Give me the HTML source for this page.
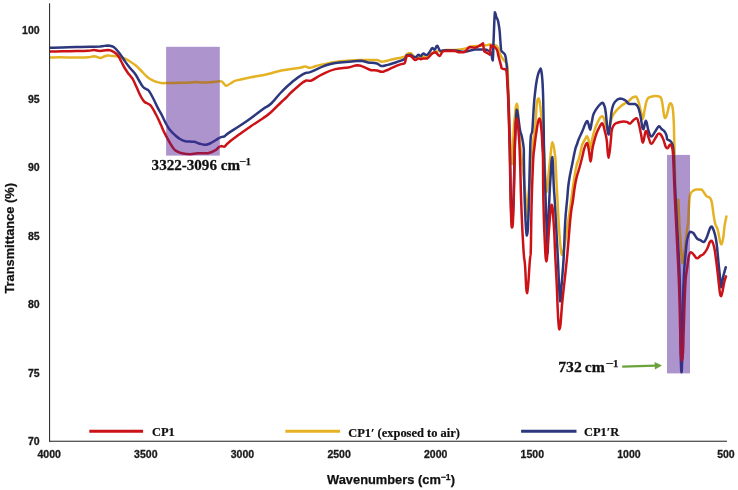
<!DOCTYPE html>
<html><head><meta charset="utf-8"><title>FTIR spectra</title>
<style>
html,body{margin:0;padding:0;background:#fff}
svg{display:block}
.ax{font-family:"Liberation Sans",Arial,sans-serif;font-weight:bold;font-size:10.5px;fill:#1a1a1a;stroke:#1a1a1a;stroke-width:0.3px}
.tt{font-family:"Liberation Sans",Arial,sans-serif;font-weight:bold;font-size:12.85px;fill:#111;stroke:#111;stroke-width:0.25px}
.lg{font-family:"Liberation Serif","Times New Roman",serif;font-weight:bold;font-size:12.45px;fill:#111;stroke:#111;stroke-width:0.2px}
.an{font-family:"Liberation Serif","Times New Roman",serif;font-weight:bold;fill:#111;stroke:#111;stroke-width:0.25px}
.ln{fill:none;stroke-width:2.5;stroke-linejoin:round;stroke-linecap:round}
</style></head><body>
<svg width="738" height="490" viewBox="0 0 738 490">
<rect width="738" height="490" fill="#fff"/>
<defs>
<clipPath id="pa"><rect x="50" y="0" width="688" height="441"/></clipPath>
<clipPath id="cp"><rect x="166.1" y="46.8" width="53.7" height="108.8"/><rect x="667" y="154.9" width="23" height="218.5"/></clipPath>
<path id="pY" d="M49.5 57.5C52.0 57.5 54.0 57.3 60.0 57.3C66.0 57.3 68.5 57.6 75.0 57.6C81.5 57.6 83.6 57.6 88.0 57.3C92.4 57.0 91.1 56.2 94.0 56.2C96.9 56.4 98.1 57.9 100.4 58.0C102.7 58.0 102.2 57.1 104.0 56.5C105.8 55.9 106.1 55.5 108.0 55.4C109.9 55.4 109.8 55.8 112.0 56.0C114.2 56.2 115.3 56.0 117.6 56.4C119.9 56.8 120.2 56.9 122.0 57.5C123.8 58.1 123.6 58.1 125.5 59.0C127.4 59.9 127.7 60.0 130.0 61.5C132.3 63.0 133.2 63.4 135.5 65.3C137.8 67.2 137.6 67.2 140.0 69.5C142.4 71.8 143.2 73.1 145.6 75.3C148.0 77.5 147.9 77.5 150.2 79.0C152.5 80.5 152.7 80.6 155.6 81.6C158.5 82.6 159.4 82.9 162.8 83.2C166.2 83.2 166.0 83.1 170.0 83.0C174.0 82.9 175.3 82.9 180.0 82.8C184.7 82.7 186.4 82.7 190.0 82.5C193.6 82.3 192.6 82.0 195.4 82.0C198.2 82.0 198.6 82.5 202.0 82.6C205.4 82.6 205.8 82.6 210.0 82.3C214.2 82.0 217.1 81.2 220.2 81.2C223.3 81.3 221.9 81.9 223.3 82.9C224.7 84.0 224.6 85.6 226.3 85.7C228.0 85.7 228.0 84.7 230.4 83.5C232.8 82.3 231.7 81.8 236.5 80.4C241.3 79.0 243.7 78.7 250.8 77.3C257.9 75.9 260.0 75.9 267.1 74.3C274.2 72.7 273.7 72.1 281.4 70.6C289.1 69.1 294.5 68.8 300.0 67.8C305.1 66.8 302.8 66.4 305.1 66.4C307.4 66.4 307.5 67.8 310.0 67.8C312.5 67.7 312.8 66.8 316.0 66.0C319.2 65.2 319.4 65.1 323.9 64.2C328.4 63.3 330.4 62.7 335.3 62.0C340.2 61.3 339.3 61.4 345.0 61.0C350.7 60.6 354.4 60.3 359.8 60.1C365.2 60.1 364.0 60.1 368.0 60.1C372.0 60.1 373.7 60.1 376.9 60.1C380.1 60.5 379.7 61.5 381.8 61.7C383.9 61.7 383.4 61.6 386.0 61.0C388.6 60.4 388.7 60.2 393.0 59.2C397.3 58.2 401.4 57.8 404.5 56.7C406.5 55.6 405.5 55.3 406.5 54.5C407.5 53.7 407.6 53.4 408.6 53.1C409.7 53.1 409.5 53.1 411.0 53.2C412.5 54.2 412.9 56.3 415.0 57.2C417.1 57.2 417.7 57.2 420.0 57.0C422.3 56.8 422.7 56.9 425.0 56.3C427.3 55.7 427.9 55.4 430.0 54.5C432.1 53.6 432.1 53.3 434.0 52.5C435.9 51.7 436.2 51.4 438.0 51.2C439.8 51.2 439.8 51.5 441.5 51.5C443.2 51.2 442.2 50.3 445.3 49.9C448.4 49.9 450.4 49.9 455.0 49.9C459.6 49.6 461.1 49.4 464.9 48.6C468.7 47.8 467.9 47.3 471.4 46.6C474.9 45.9 476.6 46.1 480.0 45.8C483.4 45.5 483.9 45.6 486.1 45.3C488.3 45.0 487.8 44.6 489.4 44.5C491.0 44.5 491.2 44.5 493.0 44.8C494.8 45.2 495.3 44.8 497.0 46.3C498.7 48.6 498.9 51.4 500.3 54.5C501.7 57.6 501.5 56.7 503.2 59.4C504.9 62.1 506.3 61.1 507.4 65.9C508.0 70.7 507.7 72.0 508.0 80.0C508.3 88.0 508.3 86.0 508.8 100.0C509.3 114.0 509.4 125.0 510.2 140.0C511.0 155.0 511.4 164.1 512.1 164.1C512.8 163.3 512.8 147.0 513.4 136.7C514.0 126.4 513.7 127.7 514.5 120.0C515.3 112.3 515.9 103.7 516.8 103.7C517.7 103.7 517.8 111.5 518.5 120.0C519.2 128.5 519.3 133.0 519.8 140.0C520.3 147.0 519.8 141.8 520.7 150.0C521.6 158.2 522.3 163.3 523.5 175.0C524.7 186.7 525.0 190.2 525.8 200.0C526.6 209.8 526.5 217.1 527.1 217.1C527.7 217.1 527.5 209.8 528.2 200.0C528.9 190.2 529.0 186.7 530.0 175.0C531.0 163.3 531.6 157.5 532.3 150.0C533.0 142.9 532.3 148.8 533.0 142.9C533.7 137.0 534.5 133.6 535.4 124.5C536.3 115.4 536.0 110.1 536.8 104.0C537.6 98.4 537.8 98.4 538.8 98.4C539.8 100.3 539.8 102.5 540.9 112.2C542.0 121.9 542.5 125.5 543.5 140.0C544.5 154.5 544.5 162.3 545.2 174.5C545.9 186.7 545.9 192.1 546.7 192.2C547.5 192.2 547.7 182.5 548.5 175.0C549.3 167.5 549.2 167.7 550.1 160.0C551.0 152.3 551.4 143.3 552.5 142.2C553.6 142.2 554.3 150.4 555.0 155.1C555.6 159.8 555.3 156.4 555.6 162.2C555.9 168.0 556.0 171.2 556.4 180.0C556.8 188.8 556.9 189.5 557.5 200.0C558.1 210.5 558.1 214.5 558.8 225.0C559.5 235.5 559.7 238.0 560.4 245.0C561.1 252.0 561.2 253.9 562.0 254.8C562.8 254.8 562.7 254.8 564.0 249.0C565.3 241.9 566.3 234.2 567.7 224.5C569.1 214.8 568.8 217.5 570.2 207.3C571.6 197.1 572.4 190.3 573.9 180.6C575.4 170.9 575.5 170.7 576.6 165.6C577.7 160.5 577.8 162.4 578.8 158.8C579.8 155.2 580.2 153.3 581.0 150.0C581.8 146.7 581.2 147.4 582.2 144.8C583.2 142.2 584.2 140.9 585.3 138.9C586.4 136.9 586.2 136.3 587.1 136.3C588.0 137.0 588.2 139.0 589.0 142.0C589.8 145.0 589.7 149.0 590.4 149.0C591.1 148.5 591.0 144.4 592.0 140.0C593.0 135.6 593.1 134.7 594.5 130.3C595.9 125.9 596.4 124.4 598.2 121.1C600.0 117.8 600.5 116.2 602.1 116.2C603.7 116.3 603.8 118.9 604.9 121.7C606.0 124.5 606.0 125.8 606.8 128.0C607.6 130.2 607.7 131.0 608.5 131.0C609.3 130.1 609.4 127.3 610.3 124.0C611.2 120.7 611.0 119.6 612.2 116.8C613.4 114.0 613.2 114.5 615.3 111.9C617.4 109.3 618.2 108.4 621.4 105.8C624.5 103.2 626.1 102.9 628.8 100.9C631.5 98.9 631.4 98.2 633.1 97.2C634.8 96.6 634.8 96.6 636.1 96.6C637.4 97.7 637.5 98.5 638.6 102.1C639.7 105.7 640.0 108.0 641.0 111.9C642.0 115.8 642.0 118.7 642.9 118.7C643.8 118.1 643.7 113.9 644.7 109.5C645.7 105.1 645.7 102.7 647.1 99.7C648.5 96.8 648.8 97.7 650.8 96.8C652.8 96.0 653.5 96.0 655.7 96.0C657.9 96.0 658.7 96.0 660.2 97.0C661.7 98.4 661.2 98.0 662.1 102.0C663.0 106.0 663.2 110.6 663.9 114.3C664.6 118.0 664.4 118.0 665.1 118.0C665.8 118.0 666.0 117.5 667.0 114.3C668.0 111.1 668.5 107.1 669.4 104.5C670.3 103.3 670.0 103.3 670.7 103.3C671.4 103.9 671.8 103.3 672.5 106.9C673.2 110.9 673.3 112.7 673.7 120.4C674.1 128.1 674.0 132.2 674.2 140.0C674.4 147.8 674.4 143.5 674.6 154.0C674.8 164.5 674.9 171.9 675.2 185.0C675.5 198.1 675.7 201.4 676.0 210.0C676.3 218.6 676.3 222.0 676.6 222.0C676.9 221.5 677.0 213.2 677.4 208.0C677.8 202.8 677.9 199.5 678.2 199.5C678.6 200.4 678.6 206.3 678.9 212.0C679.2 217.7 679.1 218.4 679.4 224.0C679.7 229.6 679.5 226.9 680.2 236.0C680.9 245.1 681.5 259.9 682.5 263.0C683.5 263.0 683.6 257.5 684.7 249.5C685.8 241.5 686.4 235.1 687.2 228.7C688.0 222.3 687.8 227.4 688.2 222.0C688.6 216.6 688.5 212.0 689.0 205.6C689.5 199.2 689.1 198.2 690.2 194.6C691.3 191.0 692.3 191.5 693.9 190.3C695.5 189.5 695.3 189.7 697.0 189.5C698.7 189.5 699.7 189.5 701.3 189.5C702.9 190.1 702.4 190.5 703.7 192.1C705.0 193.7 705.4 195.1 706.8 196.4C708.2 197.7 708.7 196.4 709.8 197.7C710.9 199.0 710.8 198.1 711.7 201.9C712.6 205.8 712.7 209.0 713.5 214.2C714.3 219.4 714.3 220.3 715.3 224.0C716.3 227.7 716.7 225.8 717.8 230.0C718.9 234.2 719.3 238.8 720.2 242.1C721.1 244.3 720.8 244.3 721.5 244.3C722.2 243.2 722.6 241.4 723.3 237.2C724.0 233.0 723.8 231.2 724.5 226.4C725.2 221.6 726.0 218.9 726.4 216.6"/>
<path id="pR" d="M49.5 51.5C52.4 51.5 55.8 51.4 62.0 51.3C68.2 51.2 69.9 51.2 76.0 51.1C82.1 51.0 83.8 51.0 88.0 50.8C92.2 50.6 91.2 50.1 94.0 50.1C96.8 50.1 96.8 50.9 100.0 50.9C103.2 50.9 104.6 50.0 107.5 50.0C110.4 50.1 110.1 50.1 112.5 51.3C114.9 52.5 115.6 52.8 117.6 55.1C119.6 57.4 119.3 57.9 121.0 61.0C122.7 64.1 123.1 65.4 125.0 68.5C126.9 71.6 127.2 71.8 129.0 74.3C130.8 76.8 130.9 76.0 132.7 79.0C134.4 82.0 134.8 83.2 136.5 87.0C138.2 90.8 138.7 92.3 140.2 95.3C141.7 98.3 141.8 98.3 143.0 100.0C144.2 101.7 143.9 101.5 145.2 102.4C146.5 103.3 147.0 103.0 148.5 104.0C150.0 105.0 149.8 104.1 151.5 106.6C153.2 109.0 153.9 110.5 156.0 114.5C158.1 118.5 158.1 118.8 160.4 123.8C162.7 128.8 163.1 130.3 166.0 135.8C168.9 141.3 170.2 143.9 172.8 147.5C175.4 151.1 174.6 149.9 177.0 151.3C179.4 152.7 179.8 152.8 182.9 153.5C186.0 154.2 186.9 154.2 190.4 154.2C193.9 154.1 193.9 153.4 198.0 153.2C202.1 153.2 203.9 153.2 208.0 153.2C212.1 152.5 213.1 151.5 215.5 150.2C217.9 148.9 216.9 148.8 218.2 147.8C219.5 146.8 219.8 146.4 221.2 146.1C222.6 146.1 222.6 146.7 224.3 146.7C226.0 145.9 224.6 145.8 228.4 142.7C232.2 139.6 235.4 137.3 240.6 133.5C245.8 129.7 245.6 129.9 250.8 126.3C256.1 122.7 258.3 121.5 263.1 118.2C267.9 114.9 266.9 115.8 271.2 112.0C275.5 108.2 277.9 105.4 281.4 102.0C284.9 98.6 283.9 99.8 286.3 97.5C288.7 95.2 287.8 95.5 291.6 92.0C295.4 88.5 299.2 85.1 302.7 82.4C306.2 80.5 304.8 80.9 306.7 80.5C308.6 80.5 307.2 80.8 310.8 80.8C314.4 79.4 316.5 77.0 322.2 74.3C327.9 71.6 329.2 70.7 335.3 69.1C341.4 67.5 343.3 68.3 348.4 67.4C353.5 66.5 353.9 65.5 357.3 65.3C360.7 65.3 359.8 65.5 363.0 66.6C366.2 67.7 368.0 69.3 371.2 70.2C374.4 70.5 374.4 70.2 376.9 70.5C379.4 70.9 379.7 71.8 381.8 71.8C383.9 71.8 383.4 71.5 386.0 70.5C388.6 69.5 389.5 68.8 393.0 67.3C396.5 65.8 398.5 65.0 401.2 64.1C403.9 63.3 403.4 64.1 404.5 63.3C405.6 62.1 405.2 60.7 405.8 59.0C406.4 57.3 406.0 56.7 407.0 55.9C408.0 55.6 408.3 55.6 410.2 55.6C412.1 56.6 413.2 59.3 415.1 60.0C417.0 60.0 417.1 58.6 418.4 58.4C419.7 58.4 419.7 59.2 420.8 59.2C421.9 59.2 421.8 58.6 423.3 58.4C424.8 58.4 425.2 58.4 427.3 58.4C429.4 57.3 430.3 54.9 432.2 53.5C434.1 52.3 433.8 52.3 435.5 52.3C437.2 52.9 437.7 55.9 439.6 55.9C441.5 55.6 440.5 52.2 443.7 51.0C446.9 50.7 450.1 50.7 453.5 50.7C456.9 51.0 455.9 51.9 458.4 52.2C460.9 52.2 461.4 52.2 464.1 52.2C466.8 51.0 467.3 47.9 469.8 46.9C472.3 46.9 472.6 47.8 474.7 47.8C476.8 47.6 477.1 47.0 479.0 46.0C480.9 45.0 482.1 43.9 483.0 43.3C483.0 43.3 483.0 43.3 483.0 43.3C483.3 45.2 483.9 49.5 484.2 51.4C484.2 51.4 484.2 51.4 484.2 51.4C485.5 52.1 488.6 53.9 489.9 54.6C489.9 54.6 489.9 54.6 489.9 54.6C490.1 52.5 490.7 47.7 490.9 45.6C490.9 45.6 490.9 45.6 490.9 45.6C492.1 46.3 494.4 46.0 496.2 48.6C498.0 51.2 497.6 52.9 498.7 56.9C499.8 60.9 500.4 63.2 501.1 65.9C501.7 68.4 501.1 67.5 501.7 68.4C502.8 69.3 504.7 68.4 506.0 69.6C507.2 72.4 506.7 73.5 507.2 80.6C507.7 87.7 507.6 83.8 508.2 100.0C508.8 116.2 509.1 124.3 509.7 150.0C510.3 175.7 510.3 191.9 510.9 210.0C511.5 227.6 511.5 227.6 512.1 227.6C512.7 227.6 512.8 225.8 513.4 210.0C514.0 194.2 514.2 177.1 514.6 160.0C515.0 142.9 514.7 146.4 515.2 136.7C515.7 127.0 515.9 118.4 516.8 118.4C517.7 118.4 518.2 127.0 518.9 136.7C519.6 146.4 519.4 144.1 520.0 160.0C520.6 175.9 520.5 184.0 521.3 205.0C522.1 226.0 522.6 236.0 523.5 250.0C524.4 264.0 524.2 254.9 525.0 265.0C525.8 275.1 526.0 293.2 527.1 293.2C528.2 292.0 529.0 270.1 529.9 260.0C530.8 250.0 530.4 260.0 530.8 250.0C531.2 236.0 531.1 221.0 531.7 200.0C532.3 179.0 532.6 171.9 533.2 160.0C533.8 149.0 533.4 155.9 534.2 149.0C535.0 142.1 535.4 137.7 536.6 130.6C537.8 123.5 538.2 118.4 539.3 118.4C540.4 118.4 540.8 123.5 541.5 130.6C542.2 137.7 542.1 142.1 542.5 149.0C542.9 155.9 542.8 149.0 543.0 160.0C543.2 171.9 543.0 182.5 543.4 200.0C543.8 217.5 543.8 220.7 544.5 235.0C545.2 249.3 545.5 261.4 546.4 261.4C547.3 261.4 547.3 248.2 548.5 235.0C549.7 221.8 550.4 207.0 551.6 204.7C552.8 204.7 553.0 214.4 553.8 225.0C554.6 235.6 554.4 237.2 555.0 250.0C555.6 262.8 555.5 261.5 556.5 280.0C557.5 298.5 557.8 325.4 559.3 329.4C560.8 329.4 561.0 313.2 562.8 297.0C564.5 280.8 565.0 278.3 566.8 260.0C568.6 241.7 569.0 232.4 570.4 218.4C571.8 204.4 572.0 207.6 573.0 200.0C574.0 192.4 574.0 191.6 574.9 186.0C575.8 180.4 575.9 180.3 577.0 176.0C578.1 171.7 578.3 171.8 579.5 167.6C580.7 163.4 580.9 162.3 582.0 158.0C583.1 153.7 583.2 152.3 584.1 149.2C585.0 146.0 585.1 145.9 585.8 144.5C586.5 143.1 586.5 143.0 587.2 143.0C587.9 144.3 588.0 145.7 588.8 150.0C589.6 154.3 589.9 160.9 590.6 161.4C591.3 161.4 591.4 155.9 592.0 152.0C592.6 148.1 592.3 149.0 593.3 144.8C594.3 140.6 594.7 138.4 596.3 134.0C597.9 129.6 598.6 128.5 600.0 126.0C601.4 123.5 601.3 123.2 602.4 123.2C603.5 124.5 603.9 127.6 604.9 131.5C605.9 135.4 605.8 133.9 606.7 140.0C607.6 146.1 607.6 157.7 608.6 157.7C609.6 157.4 610.3 144.8 611.0 138.7C611.6 132.6 611.0 134.7 611.6 131.5C612.3 128.3 612.4 126.9 614.1 124.8C615.8 122.7 616.7 123.1 619.0 122.3C621.3 121.5 621.9 121.4 623.9 121.4C625.9 121.4 626.1 121.8 627.5 122.3C628.9 122.8 628.6 123.6 630.0 123.6C631.4 123.0 632.1 121.1 633.7 119.9C635.3 118.7 635.6 118.3 636.7 118.3C637.8 119.0 637.6 119.3 638.6 123.0C639.6 126.7 640.0 129.4 641.0 134.0C642.0 138.6 641.9 142.7 642.9 142.7C643.9 142.3 644.5 134.9 645.3 132.1C646.1 130.9 645.6 130.9 646.5 130.9C647.4 132.5 647.8 135.9 649.0 138.9C650.2 141.9 650.0 143.8 651.5 143.8C653.0 143.6 653.8 140.4 655.5 138.0C657.2 135.6 657.3 133.5 659.0 133.5C660.7 133.5 661.1 134.8 662.7 138.0C664.3 141.2 664.7 144.6 665.8 147.0C666.9 148.3 666.6 148.3 667.6 148.3C668.6 147.7 669.0 144.9 670.0 144.6C671.0 144.6 671.2 144.6 671.9 147.0C672.6 149.6 672.5 147.0 673.1 155.6C673.7 164.5 673.6 168.8 674.3 185.0C675.0 201.2 675.1 201.7 676.2 225.0C677.3 248.3 678.1 260.5 679.0 285.0C679.9 309.5 679.8 314.8 680.2 330.0C680.6 345.2 680.5 343.5 680.7 350.0C680.9 356.5 680.9 355.5 681.2 358.0C681.5 360.5 681.6 360.8 681.9 360.8C682.2 360.8 682.2 360.5 682.5 358.0C682.8 355.5 682.8 356.5 683.1 350.0C683.4 343.5 683.2 345.2 683.7 330.0C684.2 314.8 684.5 299.5 685.3 285.0C686.1 270.5 686.3 274.8 687.2 267.9C688.1 261.0 688.1 259.3 689.0 255.6C689.9 252.2 689.8 252.3 690.9 252.2C692.0 252.2 692.5 253.6 693.9 255.0C695.3 256.4 695.4 258.2 697.0 258.3C698.6 258.3 699.3 256.5 700.7 255.6C702.1 254.7 701.7 255.6 703.1 254.4C704.5 253.0 705.2 252.4 706.8 249.5C708.4 246.6 708.7 244.2 709.8 242.1C710.9 240.7 710.7 240.7 711.7 240.7C712.7 241.8 713.1 242.7 714.1 247.0C715.1 251.3 715.1 253.0 716.0 259.3C716.9 265.6 717.1 268.0 717.8 274.0C718.5 280.0 718.3 279.8 719.0 285.0C719.7 290.2 719.7 296.3 721.0 296.3C722.3 295.4 723.3 285.9 724.5 281.3C725.7 276.7 725.6 277.5 726.0 276.4"/>
<path id="pB" d="M49.5 47.8C52.4 47.7 55.8 47.7 62.0 47.5C68.2 47.3 69.5 47.3 76.0 47.1C82.5 46.9 84.4 46.8 90.0 46.7C95.6 46.6 95.9 46.7 100.0 46.5C104.1 46.2 104.9 45.6 107.5 45.5C110.1 45.5 109.2 45.5 111.0 46.0C112.8 46.6 112.9 46.2 115.0 48.1C117.1 50.0 117.7 50.9 120.0 54.0C122.3 57.1 122.7 58.1 125.0 61.4C127.3 64.7 127.6 65.1 130.0 68.0C132.4 70.9 133.1 71.1 135.2 74.0C137.3 76.9 137.2 77.6 139.0 80.5C140.8 83.4 141.1 84.5 142.7 86.5C144.3 88.5 144.5 88.0 146.0 89.0C147.5 90.0 147.4 89.0 149.0 91.0C150.6 93.1 150.9 94.1 153.0 98.0C155.1 101.9 155.7 103.8 157.8 107.9C159.9 112.0 160.1 111.8 162.0 115.5C163.9 119.2 164.1 120.2 166.0 123.6C167.9 127.0 167.8 127.2 170.0 130.0C172.2 132.8 173.1 133.4 175.4 135.5C177.7 137.6 177.7 137.6 180.0 139.0C182.3 140.4 183.1 140.7 185.4 141.3C187.7 141.6 187.9 141.5 190.0 141.6C192.1 141.7 192.1 141.6 194.2 141.8C196.3 142.2 196.7 142.8 199.0 143.5C201.3 144.2 202.1 144.6 204.2 144.8C206.3 144.8 206.2 144.7 208.0 144.2C209.8 143.7 209.9 143.5 211.8 142.5C213.7 141.5 214.5 140.9 216.0 140.0C217.5 139.1 217.0 139.3 218.2 138.6C219.4 137.9 219.8 137.6 221.2 137.1C222.6 136.6 222.6 137.1 224.3 136.5C226.0 135.6 224.6 135.7 228.4 133.1C232.2 130.5 235.4 128.8 240.6 125.3C245.8 121.8 245.6 122.0 250.8 118.2C256.1 114.4 258.3 112.4 263.1 109.0C267.9 105.6 266.9 107.5 271.2 103.5C275.5 99.5 276.6 96.9 281.4 92.0C286.2 87.1 286.6 86.6 291.6 82.5C296.6 78.4 298.2 76.8 302.7 74.3C307.2 71.8 305.9 73.7 310.8 71.8C315.7 69.9 318.2 68.2 323.9 66.1C329.6 64.0 328.8 63.9 335.3 62.9C341.8 61.9 345.7 62.1 351.6 61.6C357.5 61.1 356.8 60.7 360.6 60.7C364.4 60.9 364.4 61.8 368.0 62.4C371.6 63.0 372.9 62.4 376.1 63.3C379.3 64.2 379.5 65.6 381.8 66.1C384.1 66.1 383.4 66.0 386.0 65.3C388.6 64.6 388.7 64.7 393.0 63.3C397.3 61.9 401.5 60.7 404.5 59.2C405.8 57.7 405.2 58.0 405.8 57.0C406.4 56.0 406.0 55.6 407.0 55.1C408.0 54.8 408.3 54.8 410.2 54.8C412.1 55.3 413.2 57.2 415.1 57.2C417.0 57.2 417.1 55.0 418.4 54.8C419.7 54.8 419.7 56.2 420.8 56.2C421.9 55.9 422.0 53.8 423.3 53.5C424.6 53.5 425.0 55.1 426.5 55.1C428.0 54.7 428.5 53.4 429.8 51.8C431.1 50.2 431.1 48.6 432.2 48.1C433.3 48.1 433.6 49.7 434.7 49.7C435.8 49.2 435.8 45.8 437.1 45.8C438.4 46.1 438.5 50.0 440.4 51.0C442.3 51.0 441.9 50.3 445.3 50.2C448.7 50.2 450.4 50.2 455.0 50.5C459.6 50.9 460.3 51.8 464.9 51.8C469.5 51.5 470.1 50.0 474.7 49.4C479.3 49.4 481.4 49.4 484.5 49.4C487.6 49.7 486.5 49.7 488.0 50.5C489.5 51.3 489.9 50.5 491.0 52.7C492.1 55.0 492.1 60.5 492.7 60.5C493.3 57.5 493.1 51.3 493.6 40.0C494.1 28.7 494.3 17.6 494.9 12.2C495.5 12.2 495.6 15.1 496.3 17.0C497.0 18.9 497.2 18.3 497.8 20.2C498.4 22.1 498.4 22.6 498.8 25.0C499.2 27.4 499.2 27.1 499.6 30.6C500.0 34.1 499.9 35.5 500.3 40.0C500.7 44.5 500.6 47.1 501.2 50.0C501.8 52.5 502.1 51.3 503.0 52.5C503.9 53.7 504.4 52.9 505.2 55.3C506.0 57.7 506.0 59.3 506.4 62.7C506.8 66.1 506.8 65.8 507.0 70.0C507.2 74.2 507.1 73.6 507.4 80.6C507.7 87.6 507.8 83.8 508.4 100.0C509.0 116.2 509.3 125.5 509.9 150.0C510.5 174.5 510.5 188.2 511.0 205.0C511.5 221.8 511.6 222.0 512.1 222.0C512.6 222.0 512.7 219.5 513.3 205.0C513.9 190.5 514.1 175.9 514.5 160.0C514.9 144.1 514.7 148.4 515.2 136.7C515.7 125.0 516.0 113.7 516.8 109.8C517.6 109.8 517.8 115.1 518.6 120.0C519.4 124.9 519.3 126.7 520.1 130.6C520.9 134.5 521.0 132.4 521.9 136.7C522.8 141.0 523.3 143.6 523.8 149.0C523.9 154.4 523.8 149.0 523.9 160.0C524.2 173.1 524.2 187.4 524.9 205.0C525.6 222.6 525.9 234.3 526.8 235.5C527.7 235.5 528.0 227.6 528.7 210.0C529.4 192.4 529.4 177.1 529.9 160.0C530.4 142.9 530.2 143.6 530.8 136.7C531.4 130.6 531.6 136.7 532.3 130.6C533.0 123.2 533.2 114.7 533.9 105.0C534.6 95.3 534.8 95.1 535.5 89.0C536.2 82.9 536.3 82.6 537.0 79.0C537.7 75.4 537.7 75.7 538.3 73.6C538.9 71.5 539.2 71.4 539.7 70.2C540.2 69.0 540.4 68.9 540.6 68.5C540.6 68.5 540.6 68.5 540.6 68.5C540.8 69.4 541.2 69.7 541.6 72.5C542.0 75.3 542.0 75.1 542.4 80.6C542.8 86.1 542.9 89.1 543.1 96.0C543.3 102.9 543.2 100.5 543.4 110.0C543.6 119.5 543.7 127.4 543.8 136.7C543.9 146.0 543.8 142.2 544.0 150.0C544.2 157.8 544.3 160.7 544.6 170.0C544.9 179.3 545.0 180.7 545.3 190.0C545.6 199.3 545.6 199.5 546.0 210.0C546.4 220.5 546.4 224.7 546.8 235.0C547.1 245.3 547.2 252.8 547.5 254.0C547.8 254.0 547.9 247.5 548.1 240.0C548.3 232.5 548.2 231.3 548.5 222.0C548.8 212.7 548.8 210.3 549.3 200.0C549.8 189.7 549.8 188.0 550.5 178.0C551.2 168.0 551.5 157.1 552.3 157.1C553.1 159.1 553.2 175.5 553.8 186.7C554.4 197.9 554.2 190.5 555.0 205.0C555.8 219.5 556.2 226.5 557.4 249.0C558.6 271.5 559.1 293.0 560.1 301.4C561.1 301.4 560.9 293.5 561.6 285.0C562.3 276.5 562.6 273.2 563.2 265.0C563.8 256.8 563.5 260.0 564.0 250.0C564.5 240.0 564.5 233.7 565.2 222.0C565.9 210.3 566.2 209.4 567.1 200.0C568.0 190.6 567.6 190.3 568.9 181.5C570.2 172.7 571.2 169.5 572.6 162.2C574.0 154.8 574.1 154.2 575.1 150.0C576.1 145.8 576.2 146.6 577.1 144.0C578.0 141.4 577.7 141.6 578.9 138.7C580.1 135.8 580.8 134.8 582.2 131.5C583.6 128.2 583.9 126.9 585.0 124.5C586.1 122.1 586.2 121.1 587.1 121.1C588.0 121.2 588.1 123.0 588.8 125.0C589.5 127.0 589.5 129.7 590.2 129.7C590.9 128.8 591.1 124.8 592.0 121.0C592.9 117.2 592.3 116.7 593.9 113.2C595.5 109.7 596.8 108.2 598.8 105.8C600.8 103.4 601.2 103.0 602.4 102.8C603.6 102.8 603.3 103.2 604.0 105.0C604.7 106.8 604.7 105.4 605.5 110.7C606.3 116.0 606.6 122.3 607.3 127.9C608.0 133.5 607.9 134.6 608.6 134.6C609.3 133.2 609.6 127.8 610.4 121.7C611.2 115.6 611.1 113.0 612.2 108.3C613.3 103.6 613.4 103.8 615.3 101.5C617.2 99.2 617.9 98.8 620.2 98.5C622.5 98.5 623.0 99.0 625.1 100.3C627.2 101.6 627.1 103.1 629.4 104.0C631.7 104.0 632.9 104.0 634.9 104.0C636.9 104.7 636.7 104.3 638.0 107.0C639.3 109.7 639.4 111.0 640.4 115.6C641.4 120.2 641.5 123.4 642.2 126.6C642.9 129.3 642.6 129.3 643.5 129.3C644.4 127.9 644.8 120.8 645.9 120.8C647.0 121.0 647.1 126.7 648.4 130.3C649.7 133.9 649.7 136.2 651.4 136.4C653.1 136.4 653.7 133.4 655.5 131.0C657.3 128.6 657.6 126.7 659.0 126.2C660.4 126.2 660.3 127.9 661.5 129.0C662.7 130.1 663.1 129.6 664.2 131.0C665.3 132.4 665.7 133.1 666.4 135.1C667.1 137.1 666.6 138.3 667.3 139.5C668.0 140.3 668.2 139.5 669.4 140.3C670.6 141.5 671.5 141.0 672.5 144.6C673.5 148.2 673.1 146.2 673.7 155.6C674.3 165.0 674.0 166.5 674.9 185.0C675.8 203.5 676.4 211.7 677.6 235.0C678.8 258.3 679.2 259.3 679.9 285.0C680.6 310.7 680.3 326.3 680.6 345.0C680.9 363.7 680.8 358.6 681.0 365.0C681.2 371.4 681.3 372.3 681.5 372.3C681.7 372.3 681.8 371.4 682.0 365.0C682.2 358.6 682.1 363.7 682.5 345.0C682.9 326.3 682.7 307.3 683.5 285.0C684.3 262.7 685.0 260.7 686.0 249.5C687.0 238.3 686.8 241.4 687.8 237.2C688.8 233.0 688.9 232.7 690.2 231.7C691.5 231.7 691.7 231.7 693.3 233.0C694.9 234.6 695.3 236.8 697.0 238.5C698.7 240.2 699.1 239.5 700.7 240.3C702.3 241.1 702.3 242.1 703.7 242.1C705.1 241.4 705.4 240.3 706.8 237.2C708.2 234.1 708.7 231.2 709.8 228.7C710.9 226.5 710.6 226.5 711.7 226.5C712.8 227.6 713.6 229.7 714.7 233.6C715.8 237.5 715.7 236.8 716.6 243.4C717.5 250.0 717.6 253.4 718.4 261.7C719.2 270.0 719.5 272.9 720.2 278.9C720.9 284.9 720.5 287.3 721.2 287.3C721.9 286.7 722.2 281.1 723.3 276.4C724.4 271.7 725.2 269.3 725.8 267.2"/>
</defs>
<g class="ln" clip-path="url(#pa)">
<use href="#pY" stroke="#E4B223"/>
<use href="#pB" stroke="#2D377D"/>
<use href="#pR" stroke="#CB1217"/>
</g>
<rect x="166.1" y="46.8" width="53.7" height="108.8" fill="#AD94CD"/>
<rect x="667" y="154.9" width="23" height="218.5" fill="#AD94CD"/>
<g class="ln" clip-path="url(#cp)">
<use href="#pY" stroke="#B47D32"/>
<use href="#pB" stroke="#35308A"/>
<use href="#pR" stroke="#9C1640"/>
</g>
<rect x="49" y="3.3" width="1.1" height="438.5" fill="#333"/>
<rect x="49" y="440.7" width="678" height="1.1" fill="#333"/>
<g class="ax" text-anchor="end">
<text x="39.6" y="34.0">100</text>
<text x="39.6" y="102.5">95</text>
<text x="39.6" y="171.0">90</text>
<text x="39.6" y="239.5">85</text>
<text x="39.6" y="308.0">80</text>
<text x="39.6" y="376.5">75</text>
<text x="39.6" y="444.9">70</text>
</g>
<g class="ax" text-anchor="middle">
<text x="49.2" y="457.7">4000</text>
<text x="145.8" y="457.7">3500</text>
<text x="242.4" y="457.7">3000</text>
<text x="339.1" y="457.7">2500</text>
<text x="435.7" y="457.7">2000</text>
<text x="532.3" y="457.7">1500</text>
<text x="628.9" y="457.7">1000</text>
<text x="725.9" y="457.7">500</text>
</g>
<text class="tt" transform="translate(13.5,238.3) rotate(-90)" text-anchor="middle">Transmittance (%)</text>
<text class="tt" x="391" y="484.4" text-anchor="middle">Wavenumbers (cm<tspan font-size="8.6px" dy="-4.4">−1</tspan><tspan dy="4.4">)</tspan></text>
<line x1="89.3" y1="431.3" x2="143.1" y2="431.3" stroke="#CB1217" stroke-width="3"/>
<text class="lg" x="152" y="436">CP1</text>
<line x1="285.4" y1="431.3" x2="340.1" y2="431.3" stroke="#E4B223" stroke-width="3"/>
<text class="lg" x="348.2" y="436.6">CP1′ (exposed to air)</text>
<line x1="521.1" y1="431.3" x2="576.5" y2="431.3" stroke="#2D377D" stroke-width="3"/>
<text class="lg" x="584" y="436.2">CP1′R</text>
<text class="an" transform="translate(151.6,169.7) scale(1.078,1)" font-size="14px">3322-3096 cm</text>
<text class="an" font-size="10.2px"><tspan x="245.8" y="165.1">1</tspan></text>
<text class="an" transform="translate(239.6,165.1) scale(1.2,1)" font-size="10.2px">−</text>
<text class="an" transform="translate(558.3,371.5) scale(1.08,1)" font-size="14.5px" word-spacing="-0.8px">732 cm</text>
<text class="an" font-size="10.8px"><tspan x="612.9" y="366.7">1</tspan></text>
<text class="an" transform="translate(605.6,366.7) scale(1.3,1)" font-size="10.8px">−</text>
<line x1="622.2" y1="366.7" x2="656" y2="365.6" stroke="#6BA23C" stroke-width="2.2"/>
<path d="M662 365.4L654.6 362L654.9 369.4Z" fill="#6BA23C"/>
</svg>
</body></html>
